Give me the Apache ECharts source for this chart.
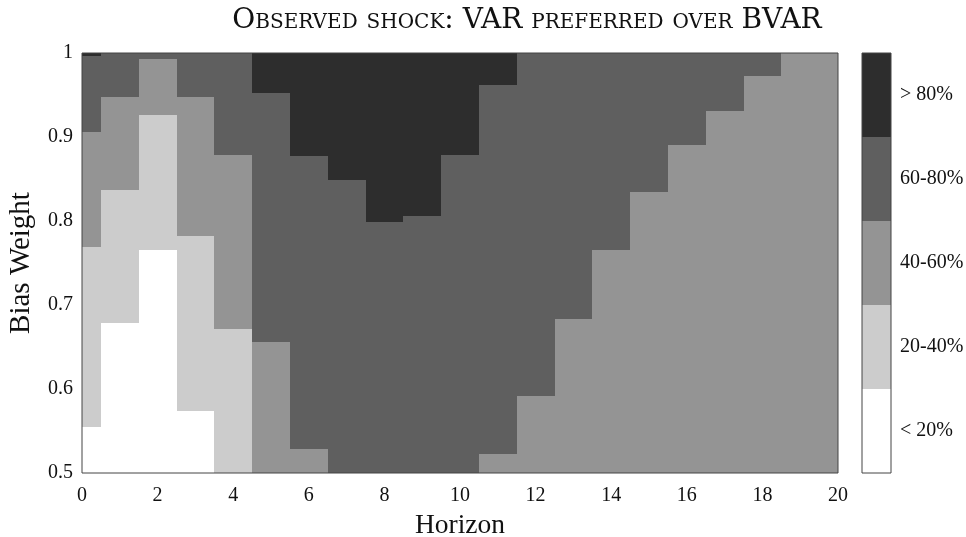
<!DOCTYPE html>
<html>
<head>
<meta charset="utf-8">
<script src="https://cdn.jsdelivr.net/npm/echarts@6/dist/echarts.min.js"></script>
<style>
html,body{margin:0;padding:0;background:#fff;}
#chart{width:966px;height:537px;}
</style>
</head>
<body>
<div id="chart"></div>
<script>
// Horizons (columns of the grid)
const horizons = [0,1,2,3,4,5,6,7,8,9,10,11,12,13,14,15,16,17,18,19,20];
// Upper bias-weight limit of each probability class, per horizon
const whiteTop = [0.555,0.678,0.766,0.574,0.5,0.5,0.5,0.5,0.5,0.5,0.5,0.5,0.5,0.5,0.5,0.5,0.5,0.5,0.5,0.5,0.5];
const lightTop = [0.769,0.837,0.926,0.782,0.671,0.5,0.5,0.5,0.5,0.5,0.5,0.5,0.5,0.5,0.5,0.5,0.5,0.5,0.5,0.5,0.5];
const midTop   = [0.906,0.948,0.993,0.948,0.878,0.656,0.529,0.5,0.5,0.5,0.5,0.523,0.592,0.683,0.765,0.835,0.890,0.931,0.973,1,1];
const darkTop  = [0.997,1,1,1,1,0.952,0.877,0.849,0.799,0.806,0.878,0.962,1,1,1,1,1,1,1,1,1];
// Classes
const classLabels = ['< 20%','20-40%','40-60%','60-80%','> 80%'];
const classColors = ['#ffffff','#cccccc','#949494','#5f5f5f','#2d2d2d'];
// Axis ticks
const xTicks = [0,2,4,6,8,10,12,14,16,18,20];
const yTicks = [0.5,0.6,0.7,0.8,0.9,1];

const FONT = 'Liberation Serif';
const segs = [];
horizons.forEach((h, i) => {
  const bounds = [0.5, whiteTop[i], lightTop[i], midTop[i], darkTop[i], 1];
  for (let c = 0; c < 5; c++) {
    if (bounds[c+1] > bounds[c]) segs.push([h, bounds[c], bounds[c+1], c]);
  }
});

const chart = echarts.init(document.getElementById('chart'), null, {renderer:'canvas'});
chart.setOption({
  animation: false,
  backgroundColor: '#ffffff',
  graphic: [{
    type: 'text', x: 527, y: 7, z: 100,
    style: { text: 'Observed shock: VAR preferred over BVAR', font: 'small-caps 28px "DejaVu Serif"',
      fill: '#111', textAlign: 'center', textVerticalAlign: 'top' }
  }],
  grid: [
    { left: 82, right: 128, top: 53, bottom: 64, show: true, z: 10, borderColor: '#444', borderWidth: 1,
      backgroundColor: 'transparent', outerBoundsMode: 'none', containLabel: false },
    { left: 862, width: 29, top: 53, bottom: 64, show: true, z: 10, borderColor: '#444', borderWidth: 1,
      backgroundColor: 'transparent', outerBoundsMode: 'none', containLabel: false }
  ],
  xAxis: [
    { gridIndex: 0, type: 'value', min: 0, max: 20, interval: 2,
      axisLine: {show: false}, axisTick: {show: false}, splitLine: {show: false},
      axisLabel: { fontFamily: FONT, fontSize: 20, color: '#111', margin: 13 },
      name: 'Horizon', nameLocation: 'middle', nameGap: 39,
      nameTextStyle: { fontFamily: FONT, fontSize: 27.5, color: '#111' } },
    { gridIndex: 1, type: 'value', min: 0, max: 1, show: false }
  ],
  yAxis: [
    { gridIndex: 0, type: 'value', min: 0.5, max: 1, interval: 0.1,
      axisLine: {show: false}, axisTick: {show: false}, splitLine: {show: false},
      axisLabel: { fontFamily: FONT, fontSize: 20, color: '#111', margin: 9,
        formatter: v => (Math.abs(v-1) < 1e-9 ? '1' : v.toFixed(1)) },
      name: 'Bias Weight', nameLocation: 'middle', nameGap: 46,
      nameTextStyle: { fontFamily: FONT, fontSize: 29, color: '#111' } },
    { gridIndex: 1, type: 'category', data: classLabels, position: 'right',
      axisLine: {show: false}, axisTick: {show: false}, splitLine: {show: false},
      axisLabel: { fontFamily: FONT, fontSize: 20, color: '#111', margin: 9 } }
  ],
  series: [
    { type: 'custom', xAxisIndex: 0, yAxisIndex: 0, data: segs,
      encode: { x: 0, y: [1, 2] },
      renderItem: function (params, api) {
        const x = api.value(0), lo = api.value(1), hi = api.value(2), c = api.value(3);
        const p1 = api.coord([x - 0.5, hi]);
        const p2 = api.coord([x + 0.5, lo]);
        const cs = params.coordSys;
        const x1 = Math.round(Math.max(p1[0], cs.x)), x2 = Math.round(Math.min(p2[0], cs.x + cs.width));
        const y1 = Math.round(Math.max(p1[1], cs.y)), y2 = Math.round(Math.min(p2[1], cs.y + cs.height));
        if (x2 <= x1 || y2 <= y1) return;
        return { type: 'rect', shape: { x: x1, y: y1, width: x2 - x1, height: y2 - y1 },
          style: { fill: classColors[c] } };
      } },
    { type: 'bar', xAxisIndex: 1, yAxisIndex: 1, barWidth: '100%',
      data: classLabels.map((l, i) => ({ value: 1, itemStyle: { color: classColors[i] } })) }
  ]
});
</script>
</body>
</html>
